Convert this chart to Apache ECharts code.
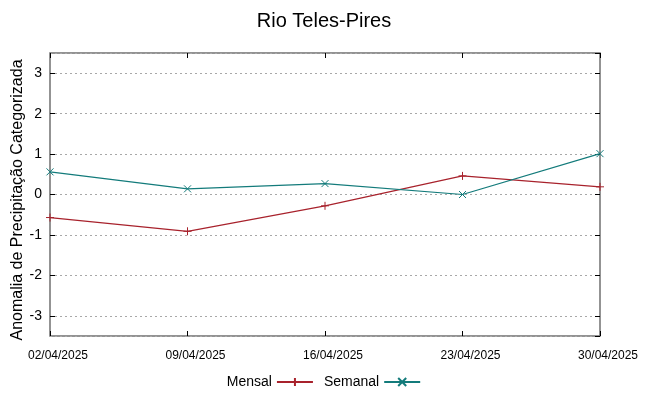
<!DOCTYPE html>
<html>
<head>
<meta charset="utf-8">
<script src="https://cdn.jsdelivr.net/npm/echarts@6/dist/echarts.min.js"></script>
<style>html,body{margin:0;padding:0;background:#fff}#c{width:648px;height:396px}</style>
</head>
<body>
<div id="c"></div>
<script>
const categories = ['02/04/2025', '09/04/2025', '16/04/2025', '23/04/2025', '30/04/2025'];
const mensal = [-0.57, -0.91, -0.28, 0.46, 0.19];
const semanal = [0.56, 0.14, 0.27, 0.0, 1.01];
const yTicks = [-3, -2, -1, 0, 1, 2, 3];
const titleText = 'Rio Teles-Pires';
const yName = 'Anomalia de Precipitação Categorizada';

const colMensal = '#a8222c';
const colSemanal = '#137b7b';
const font = 'Liberation Sans, Arial, sans-serif';
const plusPath = 'path://M0,5 L10,5 M5,0 L5,10';
const crossPath = 'path://M0,0 L10,10 M10,0 L0,10';

const chart = echarts.init(document.getElementById('c'), null, {renderer: 'canvas'});
chart.setOption({
  animation: false,
  backgroundColor: '#fff',
  title: {
    text: titleText, left: 'center', top: 6,
    textStyle: {fontFamily: font, fontSize: 20, fontWeight: 'normal', color: '#000'}
  },
  graphic: [{
    type: 'text', x: 18, y: 200, rotation: Math.PI / 2, silent: true,
    style: {
      text: yName, font: '16px ' + font, fill: '#000',
      align: 'center', verticalAlign: 'middle',
      textAlign: 'center', textVerticalAlign: 'middle'
    }
  }],
  legend: {
    bottom: 2, left: 'center', align: 'right', itemWidth: 36, itemHeight: 10, itemGap: 10,
    textStyle: {fontFamily: font, fontSize: 14, color: '#000'},
    data: ['Mensal', 'Semanal']
  },
  grid: {
    left: 50, right: 48, top: 53, bottom: 60, show: true, outerBoundsMode: 'none',
    borderColor: '#707070', borderWidth: 1.5, backgroundColor: 'transparent'
  },
  xAxis: [{
    type: 'category', data: categories, boundaryGap: false,
    axisLine: {show: false, onZero: false},
    axisTick: {show: true, inside: true, length: 5, lineStyle: {color: '#000'}},
    axisLabel: {fontFamily: font, fontSize: 12, color: '#000', margin: 14, interval: 0,
      padding: [0, 0, 0, 16]},
    splitLine: {show: false}
  }, {
    type: 'category', data: categories, boundaryGap: false, position: 'top',
    axisLine: {show: false, onZero: false},
    axisTick: {show: true, inside: true, length: 5, lineStyle: {color: '#000'}},
    axisLabel: {show: false}, splitLine: {show: false}
  }],
  yAxis: [{
    type: 'value', min: -3.5, max: 3.5, splitNumber: 7,
    axisLine: {show: false, onZero: false},
    axisTick: {show: true, inside: true, length: 5, lineStyle: {color: '#000'}},
    axisLabel: {fontFamily: font, fontSize: 14, color: '#000', margin: 8,
      showMinLabel: false, showMaxLabel: false,
      formatter: v => yTicks.includes(v) ? String(v) : ''},
    splitLine: {show: true, lineStyle: {color: '#a8a8a8', type: [2, 3], width: 1}}
  }, {
    type: 'value', min: -3.5, max: 3.5, splitNumber: 7, position: 'right',
    axisLine: {show: false, onZero: false},
    axisTick: {show: true, inside: true, length: 5, lineStyle: {color: '#000'}},
    axisLabel: {show: false}, splitLine: {show: false}
  }],
  series: [{
    name: 'Mensal', type: 'line', data: mensal, xAxisIndex: 0, yAxisIndex: 0,
    symbol: plusPath, symbolSize: 8, showAllSymbol: true,
    lineStyle: {color: colMensal, width: 1.2},
    itemStyle: {color: colMensal, borderColor: colMensal, borderWidth: 1}
  }, {
    name: 'Semanal', type: 'line', data: semanal, xAxisIndex: 0, yAxisIndex: 0,
    symbol: crossPath, symbolSize: 7, showAllSymbol: true,
    lineStyle: {color: colSemanal, width: 1.2},
    itemStyle: {color: colSemanal, borderColor: colSemanal, borderWidth: 1}
  }]
});
</script>
</body>
</html>
